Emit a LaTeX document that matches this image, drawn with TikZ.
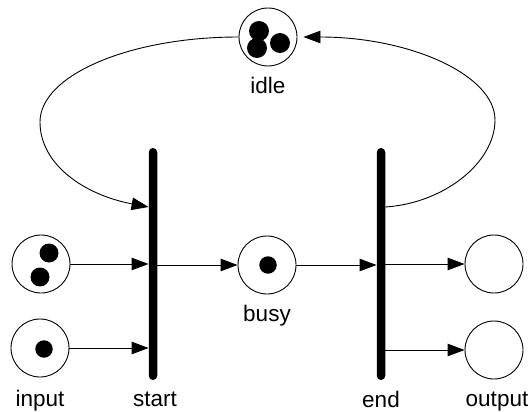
\documentclass[tikz,border=0pt]{standalone}
\usepackage{fontspec}
\setmainfont{Liberation Sans}
\usetikzlibrary{arrows.meta}
\begin{document}
\begin{tikzpicture}[x=1pt,y=-1pt,
  place/.style={circle,draw,line width=0.9pt,minimum size=58pt,inner sep=0pt},
  bar/.style={rectangle,fill=black,minimum width=8.5pt,minimum height=232pt,inner sep=0pt,rounded corners=4.2pt},
  tok/.style={circle,fill=black,minimum size=19pt,inner sep=0pt},
  arc/.style={line width=0.9pt,-{Triangle[length=17pt,width=12.5pt]}},
  lbl/.style={font=\fontsize{22.5}{27}\selectfont,anchor=base,inner sep=0pt}]
\useasboundingbox (0,0) rectangle (528,412);
% places
\node[place] (idle) at (268,37) {};
\node[place] (in1) at (41,264) {};
\node[place] (in2) at (40,348) {};
\node[place] (busy) at (267,265) {};
\node[place] (out1) at (494,264) {};
\node[place] (out2) at (494,350) {};
% tokens
\node[tok,minimum size=20pt] (t1) at (259,31) {};
\node[tok,minimum size=20pt] (t2) at (257,48) {};
\node[tok,minimum size=20pt] (t3) at (280,43) {};
\node[tok] (t4) at (49,253) {};
\node[tok] (t5) at (40,277) {};
\node[tok,minimum size=17.5pt] (t6) at (44,349) {};
\node[tok,minimum size=17.5pt] (t7) at (268,265) {};
% transitions
\node[bar] (start) at (153,264) {};
\node[bar] (end) at (381,264) {};
% labels
\node[lbl] (lidle) at (268,94) {idle};
\node[lbl] (lbusy) at (267,321) {busy};
\node[lbl] (linput) at (40,406) {input};
\node[lbl] (lstart) at (155,406) {start};
\node[lbl] (lend) at (381,407) {end};
\node[lbl] (loutput) at (497,406) {output};
% arcs
\draw[arc] (in1.east) -- (in1.east -| start.west);
\draw[arc] (in2.east) -- (in2.east -| start.west);
\draw[arc] (start.east |- busy.west) -- (busy.west);
\draw[arc] (busy.east) -- (busy.east -| end.west);
\draw[arc] (end.east |- out1.west) -- (out1.west);
\draw[arc] (end.east |- out2.west) -- (out2.west);
\coordinate (lw) at (40,122);
\coordinate (rw) at (495,120);
\draw[arc] (idle.west) .. controls (130,37) and (40,75) .. (lw)
  .. controls (40,165) and (85,195) .. ([yshift=57pt]start.west);
\draw[arc,shorten >=6pt] ([yshift=57pt]end.east) .. controls (445,203) and (495,162) .. (rw)
  .. controls (495,75) and (410,37) .. (idle.east);
\end{tikzpicture}
\end{document}
